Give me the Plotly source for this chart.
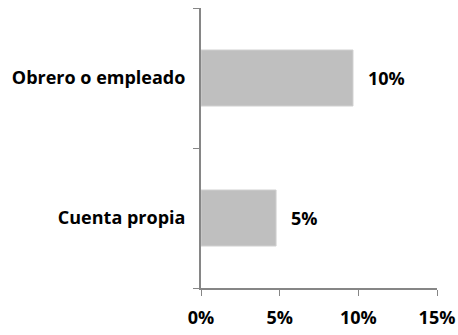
import plotly.graph_objects as go

categories = ["Cuenta propia", "Obrero o empleado"]
values = [4.77, 9.66]
x_ticks = [0, 5, 10, 15]
x_tick_labels = ["0%", "5%", "10%", "15%"]

font_fam = "Open Sans"
axis_col = "#868686"
fsize = 18

fig = go.Figure(go.Bar(
    x=values, y=categories, orientation="h",
    marker=dict(color="#bfbfbf", line=dict(color="#d0d0d0", width=1)),
))
for c, v in zip(categories, values):
    fig.add_annotation(x=v, y=c, text=f"<b>{v:.0f}%</b>", showarrow=False,
                       xanchor="left", xshift=13,
                       font=dict(family=font_fam, size=fsize, color="black"))
fig.update_layout(
    width=458, height=335,
    margin=dict(l=201, r=21, t=8, b=47, autoexpand=False),
    paper_bgcolor="white", plot_bgcolor="white",
    bargap=0.6, showlegend=False,
    xaxis=dict(range=[0, 15], tickvals=x_ticks, ticktext=x_tick_labels,
               showgrid=False, zeroline=False, showline=True, linecolor=axis_col, linewidth=2,
               ticks="outside", ticklen=6, tickcolor=axis_col, tickwidth=1,
               ticklabelstandoff=6, automargin=False,
               tickfont=dict(family=font_fam, size=fsize, color="black", weight="bold")),
    yaxis=dict(type="category", showgrid=False, showline=True, linecolor=axis_col, linewidth=2,
               ticks="outside", ticklen=6, tickcolor=axis_col, tickwidth=1,
               tickson="boundaries", ticklabelstandoff=10, automargin=False,
               tickfont=dict(family=font_fam, size=fsize, color="black", weight="bold")),
)
fig.write_html("out.html")
